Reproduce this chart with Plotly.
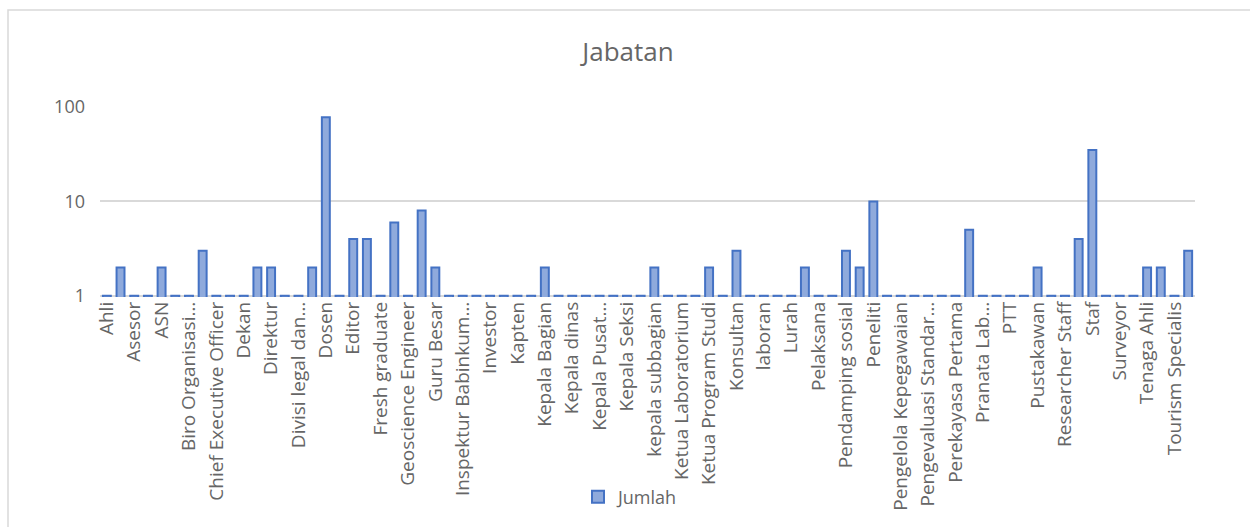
import plotly.graph_objects as go

# Job titles shown on the category axis (every second category is labelled)
tick_labels = [
    "Ahli", "Asesor", "ASN", "Biro Organisasi…", "Chief Executive Officer",
    "Dekan", "Direktur", "Divisi legal dan…", "Dosen", "Editor",
    "Fresh graduate", "Geoscience Engineer", "Guru Besar", "Inspektur Babinkum…",
    "Investor", "Kapten", "Kepala Bagian", "Kepala dinas", "Kepala Pusat…",
    "Kepala Seksi", "kepala subbagian", "Ketua Laboratorium", "Ketua Program Studi",
    "Konsultan", "laboran", "Lurah", "Pelaksana", "Pendamping sosial", "Peneliti",
    "Pengelola Kepegawaian", "Pengevaluasi Standar…", "Perekayasa Pertama",
    "Pranata Lab…", "PTT", "Pustakawan", "Researcher Staff", "Staf", "Surveyor",
    "Tenaga Ahli", "Tourism Specialis",
]

# Count per job title, in category order
jumlah = [
    1, 2, 1, 1, 2, 1, 1, 3, 1, 1,
    1, 2, 2, 1, 1, 2, 78, 1, 4, 4,
    1, 6, 1, 8, 2, 1, 1, 1, 1, 1,
    1, 1, 2, 1, 1, 1, 1, 1, 1, 1,
    2, 1, 1, 1, 2, 1, 3, 1, 1, 1,
    1, 2, 1, 1, 3, 2, 10, 1, 1, 1,
    1, 1, 1, 5, 1, 1, 1, 1, 2, 1,
    1, 4, 35, 1, 1, 1, 2, 2, 1, 3,
]

y_ticks = [1, 10, 100]

positions = list(range(len(jumlah)))
label_positions = positions[::2]

TEXT = "#666666"
GRID = "#d9d9d9"
FONT = "Open Sans"

fig = go.Figure()
fig.add_trace(go.Bar(
    x=positions,
    y=jumlah,
    name="Jumlah",
    marker=dict(color="#8FAADC", line=dict(color="#4472C4", width=2)),
    showlegend=True,
))

L, R, T, B = 100, 55, 107, 230
W, H = 1250, 527
pw = W - L - R
ph = H - T - B

fig.update_layout(
    width=W, height=H, autosize=False,
    margin=dict(l=L, r=R, t=T, b=B, pad=0),
    paper_bgcolor="white", plot_bgcolor="white",
    font=dict(family=FONT, color=TEXT),
    bargap=0.42,
    title=dict(
        text="Jabatan", x=628 / W, xref="container", xanchor="center",
        y=1 - 52 / H, yref="container", yanchor="middle",
        font=dict(size=26, color=TEXT, family=FONT),
    ),
    xaxis=dict(
        range=[-0.5, len(jumlah) - 0.5],
        tickmode="array", tickvals=label_positions, ticktext=tick_labels,
        tickangle=-90, tickfont=dict(size=19, color=TEXT, family=FONT),
        showgrid=False, zeroline=False, ticks="", showline=False,
    ),
    yaxis=dict(
        type="log", range=[-0.012, 2.0],
        tickmode="array", tickvals=y_ticks, ticktext=[str(v) for v in y_ticks],
        tickfont=dict(size=18, color=TEXT, family=FONT),
        showgrid=True, gridcolor=GRID, gridwidth=1.5,
        zeroline=False, ticks="", showline=False, ticklabelstandoff=14,
    ),
    legend=dict(
        x=(578 - L) / pw, xanchor="left",
        y=(297 - 497) / ph, yanchor="middle",
        bgcolor="rgba(0,0,0,0)", font=dict(size=18, color=TEXT, family=FONT),
        orientation="h",
    ),
    shapes=[dict(
        type="rect", xref="paper", yref="paper",
        x0=(8 - L) / pw, x1=1.2, y0=-1.4, y1=(297 - 10) / ph,
        line=dict(color=GRID, width=1.5), fillcolor="rgba(0,0,0,0)", layer="below",
    )],
)

fig.write_html("out.html")
